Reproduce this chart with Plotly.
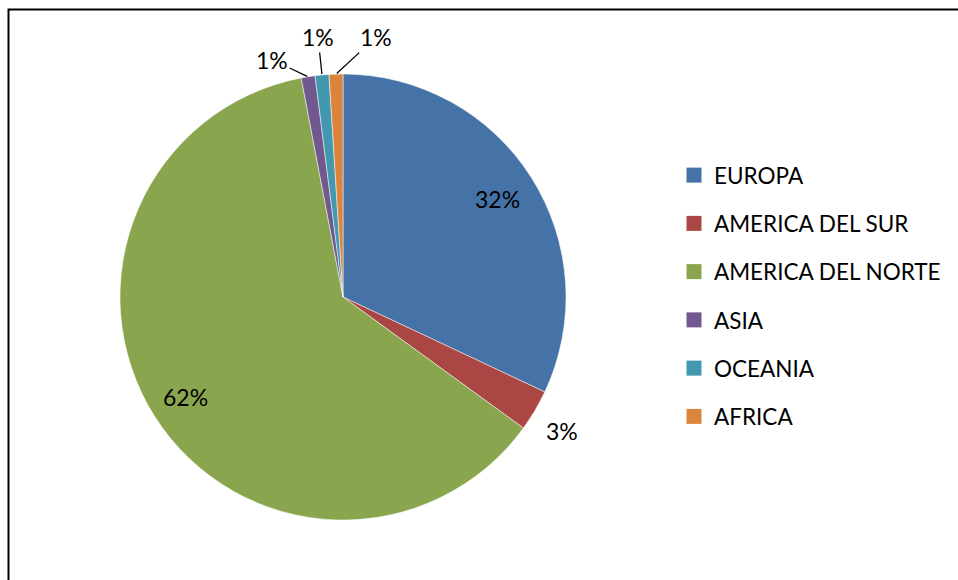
import math
import plotly.graph_objects as go

regions = ["EUROPA", "AMERICA DEL SUR", "AMERICA DEL NORTE", "ASIA", "OCEANIA", "AFRICA"]
shares = [32, 3, 62, 1, 1, 1]
colors = ["#4572A7", "#AA4643", "#89A54E", "#71588F", "#4198AF", "#DB843D"]

W, H = 958, 580
FONT = "Lato"
# pie box in pixels (left, top, size)
PX0, PY0, SIZE = 120, 74, 446
CX, CY, R = PX0 + SIZE / 2, PY0 + SIZE / 2, SIZE / 2

# label placement per slice: ("in", radius factor) or ("out", dx, dy offset of text from rim)
label_style = [
    ("in", 0.82),
    ("free", 1.14),
    ("in", 0.835),
    ("out", -36, -17),
    ("out", -4, -38),
    ("out", 40, -37),
]

fig = go.Figure()
fig.add_trace(go.Pie(
    labels=regions, values=shares, sort=False, direction="clockwise", rotation=0,
    marker=dict(colors=colors, line=dict(color="white", width=0.5)),
    textinfo="none",
    domain=dict(x=[PX0 / W, (PX0 + SIZE) / W], y=[1 - (PY0 + SIZE) / H, 1 - PY0 / H]),
    showlegend=False, hoverinfo="label+percent",
))

# percentage labels, placed from each slice's mid angle
total = sum(shares)
cum = 0
for v, st in zip(shares, label_style):
    mid = (cum + v / 2) / total * 2 * math.pi
    cum += v
    sx, sy = math.sin(mid), -math.cos(mid)
    txt = f"{round(100 * v / total)}%"
    if st[0] in ("in", "free"):
        px, py = CX + st[1] * R * sx, CY + st[1] * R * sy
        if st[0] == "free":
            py += 5
        fig.add_annotation(x=px / W, y=1 - py / H, xref="paper", yref="paper",
                           xanchor="center", yanchor="middle",
                           text=txt, showarrow=False,
                           font=dict(family=FONT, size=23, color="#000000"))
    else:
        px, py = CX + R * sx, CY + R * sy
        fig.add_annotation(x=px / W, y=1 - py / H, xref="paper", yref="paper",
                           text=txt, showarrow=True, arrowhead=0, arrowwidth=1.3,
                           arrowcolor="#000000", ax=st[1], ay=st[2], standoff=1,
                           font=dict(family=FONT, size=23, color="#000000"))

# legend entries (one per region, so the gap between them can be set)
for name, col in zip(regions, colors):
    fig.add_trace(go.Scatter(
        x=[None], y=[None], mode="markers", name=name, legendgroup=name,
        marker=dict(symbol="square", size=15, color=col),
    ))

fig.update_xaxes(visible=False)
fig.update_yaxes(visible=False)

fig.add_shape(type="rect", xref="paper", yref="paper",
              x0=8.5 / W, x1=1.1, y0=-0.1, y1=1 - 9.5 / H,
              line=dict(color="black", width=2))

fig.update_layout(
    width=W, height=H, margin=dict(l=0, r=0, t=0, b=0),
    paper_bgcolor="white", plot_bgcolor="white",
    font=dict(family=FONT, size=22.5, color="#000000"),
    legend=dict(x=674 / W, y=1 - 154 / H, xanchor="left", yanchor="top",
                tracegroupgap=16, itemclick=False, bgcolor="rgba(0,0,0,0)",
                font=dict(family=FONT, size=22.5, color="#000000")),
)

fig.write_html("out.html")
